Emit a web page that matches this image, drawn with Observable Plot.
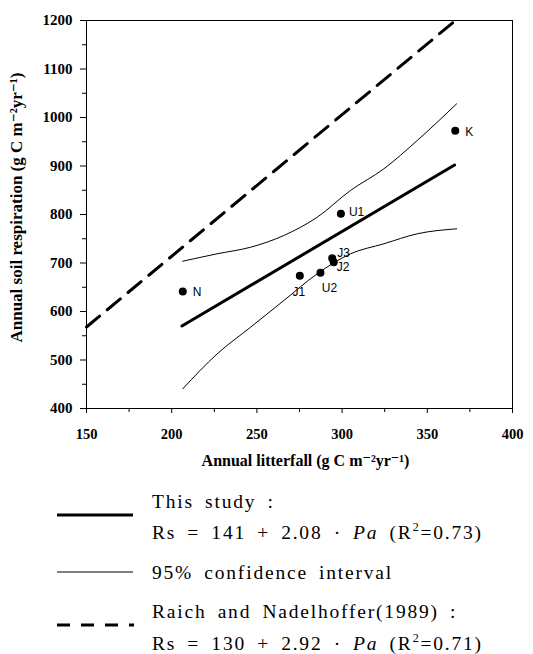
<!DOCTYPE html>
<html>
<head>
<meta charset="utf-8">
<script src="https://cdn.jsdelivr.net/npm/d3@7"></script>
<script src="https://cdn.jsdelivr.net/npm/@observablehq/plot@0.6"></script>
<style>
  html, body { margin: 0; padding: 0; background: #fff; }
  #chart svg { display: block; }
  #legend { display: block; }
</style>
</head>
<body>
<div id="chart"></div>
<svg id="legend" width="533" height="176"></svg>
<script>
// ---- data ----
const sites       = ["N", "J1", "U2", "J3", "J2", "U1", "K"];
const litterfall  = [206.5, 275.2, 287.3, 294.2, 295.1, 299.3, 366.4];
const respiration = [641, 673.6, 679.8, 709.9, 701.6, 801.4, 972.6];

// This study regression line (endpoints)
const fitLitter = [206, 366];
const fitResp   = [570, 902];

// 95% confidence interval curves
const ciUpperLitter = [206.5, 226.7, 246.3, 265.8, 285.4, 304.9, 324.5, 344.1, 367.2];
const ciUpperResp   = [703.7, 719, 732.5, 756.7, 794.4, 849.5, 894.2, 952.6, 1028.2];
const ciLowerLitter = [206.5, 226.7, 246.3, 265.8, 285.4, 304.9, 324.5, 344.1, 367.2];
const ciLowerResp   = [440.6, 512.7, 567.6, 622.6, 677.7, 718.9, 739.6, 760.2, 770.5];

// Raich and Nadelhoffer (1989) line (endpoints)
const raichLitter = [150, 366.5];
const raichResp   = [568, 1200];

const xTicks = [150, 200, 250, 300, 350, 400];
const xMinorTicks = [175, 225, 275, 325, 375];
const yTicks = [400, 500, 600, 700, 800, 900, 1000, 1100, 1200];
const yMinorTicks = [450, 550, 650, 750, 850, 950, 1050, 1150];

// ---- tables ----
const points = sites.map((s, i) => ({site: s, x: litterfall[i], y: respiration[i]}));
const fit = fitLitter.map((x, i) => ({x, y: fitResp[i]}));
const ciUpper = ciUpperLitter.map((x, i) => ({x, y: ciUpperResp[i]}));
const ciLower = ciLowerLitter.map((x, i) => ({x, y: ciLowerResp[i]}));
const raich = raichLitter.map((x, i) => ({x, y: raichResp[i]}));

// label placement (style, not data)
const labelPlace = {
  N:  {dx: 10, dy: 1, anchor: "start"},
  K:  {dx: 10, dy: 1, anchor: "start"},
  U1: {dx: 8,  dy: -2, anchor: "start"},
  J3: {dx: 5,  dy: -5, anchor: "start"},
  J2: {dx: 3,  dy: 5, anchor: "start"},
  J1: {dx: -1, dy: 16, anchor: "middle"},
  U2: {dx: 9,  dy: 15, anchor: "middle"}
};

const serif = "'Liberation Serif', 'Times New Roman', 'DejaVu Serif', serif";
const sans = "'Liberation Sans', Arial, sans-serif";

const labelMarks = sites.map(s => Plot.text(points.filter(d => d.site === s), {
  x: "x", y: "y", text: "site",
  dx: labelPlace[s].dx, dy: labelPlace[s].dy, textAnchor: labelPlace[s].anchor,
  fontFamily: sans, fontSize: 12, letterSpacing: 1
}));

const chart = Plot.plot({
  width: 533,
  height: 478,
  marginLeft: 86,
  marginRight: 21,
  marginTop: 20,
  marginBottom: 70,
  style: {fontFamily: serif, background: "#fff", color: "#000"},
  x: {domain: [150, 400]},
  y: {domain: [400, 1200]},
  marks: [
    Plot.frame({stroke: "#000", strokeWidth: 1}),
    Plot.axisX({ticks: xTicks, tickSize: 5, tickPadding: 15, fontSize: 14.5, fontWeight: "bold", fontFamily: serif, label: null, tickFormat: d => String(d)}),
    Plot.axisX({ticks: xMinorTicks, tickSize: 4, text: null, label: null}),
    Plot.axisY({ticks: yTicks, tickSize: 6, tickPadding: 8, fontSize: 15, fontWeight: "bold", fontFamily: serif, label: null, tickFormat: d => String(d)}),
    Plot.axisY({ticks: yMinorTicks, tickSize: 4, text: null, label: null}),
    Plot.line(raich, {x: "x", y: "y", stroke: "#000", strokeWidth: 3, strokeDasharray: "17,10"}),
    Plot.line(ciUpper, {x: "x", y: "y", stroke: "#000", strokeWidth: 1, curve: "monotone-x"}),
    Plot.line(ciLower, {x: "x", y: "y", stroke: "#000", strokeWidth: 1, curve: "monotone-x"}),
    Plot.line(fit, {x: "x", y: "y", stroke: "#000", strokeWidth: 3}),
    Plot.dot(points, {x: "x", y: "y", r: 4, fill: "#000", stroke: "none"}),
    ...labelMarks,
    Plot.text(["Annual litterfall (g C m\u207B\u00B2yr\u207B\u00B9)"], {frameAnchor: "bottom", textAnchor: "middle", dy: 57, dx: 6, fontSize: 16, letterSpacing: 0.4, fontWeight: "bold", fontFamily: serif}),
    Plot.text(["Annual soil respiration (g C m\u207B\u00B2yr\u207B\u00B9)"], {frameAnchor: "left", textAnchor: "middle", rotate: -90, dx: -70, dy: -7, fontSize: 17, letterSpacing: 0.3, fontWeight: "bold", fontFamily: serif})
  ]
});
document.getElementById("chart").appendChild(chart);

// ---- legend (below the plot) ----
const legend = d3.select("#legend");
const top0 = 478;
const lg = legend.append("g");
lg.append("line").attr("x1", 57).attr("x2", 133).attr("y1", 515 - top0).attr("y2", 515 - top0)
  .attr("stroke", "#000").attr("stroke-width", 3);
lg.append("line").attr("x1", 57).attr("x2", 133).attr("y1", 572 - top0).attr("y2", 572 - top0)
  .attr("stroke", "#000").attr("stroke-width", 1);
lg.append("line").attr("x1", 57).attr("x2", 134).attr("y1", 625 - top0).attr("y2", 625 - top0)
  .attr("stroke", "#000").attr("stroke-width", 3).attr("stroke-dasharray", "13,11");

const tstyle = t => t.attr("font-family", serif).attr("font-size", 19.5)
  .attr("letter-spacing", 1.8).attr("word-spacing", 4.5).attr("fill", "#000");

function eqLine(y, a, b, r2) {
  const t = tstyle(lg.append("text").attr("x", 152).attr("y", y - top0));
  t.append("tspan").text(`Rs = ${a} + ${b} \u00B7 `);
  t.append("tspan").attr("font-style", "italic").text("Pa");
  t.append("tspan").text(" (R");
  t.append("tspan").attr("font-size", 12).attr("dy", -8).text("2");
  t.append("tspan").attr("dy", 8).text(`=${r2})`);
}

tstyle(lg.append("text").attr("x", 152).attr("y", 508 - top0)).text("This study :");
eqLine(539, "141", "2.08", "0.73");
tstyle(lg.append("text").attr("x", 152).attr("y", 579 - top0)).text("95% confidence interval");
tstyle(lg.append("text").attr("x", 152).attr("y", 618 - top0)).text("Raich and Nadelhoffer(1989) :");
eqLine(650, "130", "2.92", "0.71");
</script>
</body>
</html>
